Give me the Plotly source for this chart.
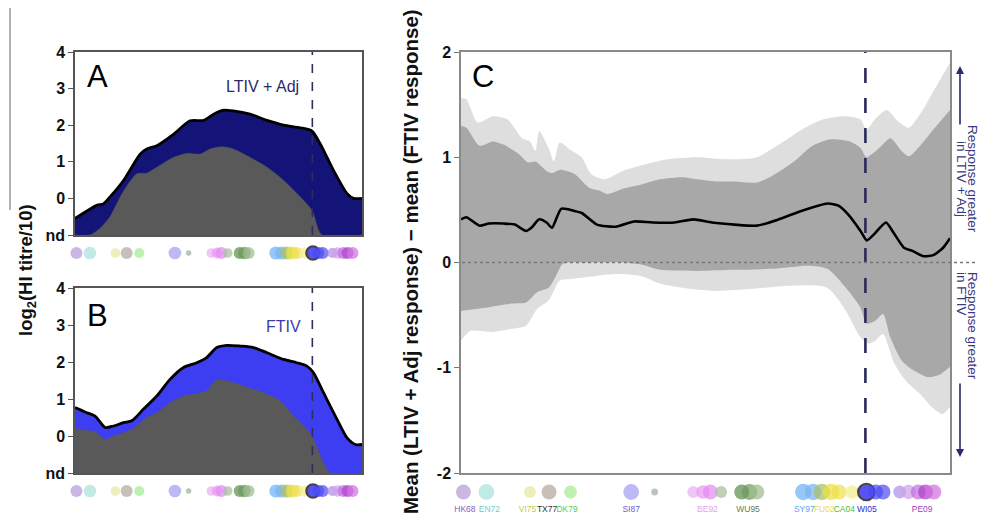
import plotly.graph_objects as go

W, H = 981, 519

# ---------------- data ----------------
# Panel A (LTIV + Adj): antigenic position (% of axis) and log2 titres
a_top_x = [0, 7.6, 9.9, 12.2, 16.9, 22.7, 25, 28.5, 34.3, 40.1, 44.8, 48.3, 51.7, 55.2, 61, 66.9, 72.7, 78.5, 82.6, 85.5, 90.1, 94.8, 97.1, 100]
a_top_y = [-0.55, -0.19, -0.15, 0.04, 0.49, 1.21, 1.35, 1.44, 1.75, 2.12, 2.13, 2.30, 2.41, 2.39, 2.30, 2.13, 2.0, 1.93, 1.84, 1.48, 0.76, 0.13, 0, 0]
a_base_x = [0, 5.2, 8.7, 12.2, 16.9, 21.5, 25, 28.5, 34.3, 39, 43.6, 47.1, 51.2, 55.2, 61, 66.9, 72.7, 78.5, 82.6, 86, 100]
a_base_y = [-1, -1, -0.82, -0.5, 0.2, 0.67, 0.69, 0.85, 1.12, 1.23, 1.21, 1.35, 1.41, 1.35, 1.12, 0.85, 0.49, 0.04, -0.33, -1, -1]

# Panel B (FTIV)
b_top_x = [0, 4.1, 7, 10.5, 13.4, 16.9, 19.8, 23.8, 28.5, 33.1, 37.8, 42.4, 45.9, 49.4, 52.9, 57.6, 62.2, 66.9, 72.7, 77.3, 80.8, 83.1, 86.6, 91.3, 94.8, 97.7, 100]
b_top_y = [0.77, 0.63, 0.54, 0.23, 0.27, 0.36, 0.41, 0.72, 1.08, 1.53, 1.85, 1.98, 2.12, 2.39, 2.45, 2.43, 2.39, 2.25, 2.07, 1.98, 1.89, 1.71, 1.17, 0.45, -0.05, -0.23, -0.23]
b_base_x = [0, 4.1, 7, 10.5, 13.4, 16.9, 20.3, 25, 28.5, 33.1, 37.8, 43.6, 45.9, 49.4, 55.2, 62.2, 66.9, 71.5, 76.2, 80.8, 83.1, 89, 100]
b_base_y = [0.2, 0.15, 0.11, -0.09, 0, 0.09, 0.2, 0.5, 0.63, 0.9, 1.08, 1.17, 1.22, 1.53, 1.44, 1.26, 1.13, 0.95, 0.54, 0.18, -0.09, -1, -1]

# Panel C: difference of means with bands
c_mean_x = [0, 1.1, 3.8, 5.7, 8.7, 11, 13.3, 14.4, 16, 17.5, 18.6, 20.5, 23.2, 24.7, 27.8, 31.6, 35.4, 39.2, 43.7, 47.5, 51.3, 55.9, 60.5, 65, 69.6, 75, 77.2, 79.3, 81.7, 83.0, 84.5, 86.9, 88.5, 90.6, 92.3, 94.6, 96.6, 98.6, 100]
c_mean_y = [0.41, 0.43, 0.35, 0.37, 0.37, 0.36, 0.30, 0.33, 0.41, 0.38, 0.33, 0.51, 0.49, 0.47, 0.36, 0.34, 0.39, 0.38, 0.38, 0.41, 0.38, 0.36, 0.35, 0.41, 0.49, 0.56, 0.54, 0.45, 0.30, 0.21, 0.27, 0.38, 0.28, 0.14, 0.11, 0.06, 0.07, 0.14, 0.23]

c_dark_up_x = [0, 1.1, 3.8, 6.5, 8.7, 11.8, 13.7, 15.2, 17.5, 18.6, 20.2, 23.2, 26.2, 28.5, 30, 33.1, 36.9, 40.7, 45.2, 48.3, 52.1, 55.9, 60.5, 63.5, 68.1, 71.9, 75.7, 79.5, 81.7, 82.9, 85.6, 87.8, 90.1, 91.6, 93.9, 96.9, 100]
c_dark_up_y = [1.30, 1.28, 1.11, 1.15, 1.12, 1.03, 0.95, 0.96, 0.87, 0.85, 0.88, 0.84, 0.71, 0.68, 0.65, 0.70, 0.74, 0.79, 0.81, 0.79, 0.77, 0.77, 0.76, 0.82, 0.96, 1.11, 1.17, 1.15, 1.09, 1.00, 1.09, 1.18, 1.06, 1.01, 1.11, 1.28, 1.45]
c_dark_lo_x = [0, 4.9, 10.3, 13.3, 15.6, 17.9, 19.4, 20.9, 25.5, 33.1, 36.9, 40.7, 48.3, 55.9, 63.5, 71.1, 74.9, 78.7, 81.7, 82.9, 84.8, 86.3, 87.8, 90.1, 92.4, 95.4, 97.7, 100]
c_dark_lo_y = [-0.46, -0.43, -0.39, -0.38, -0.28, -0.24, -0.13, -0.01, 0, 0, -0.02, -0.07, -0.08, -0.07, -0.06, -0.03, -0.06, -0.24, -0.43, -0.58, -0.55, -0.49, -0.71, -0.93, -1.02, -1.09, -1.07, -0.99]
c_light_up_x = [0, 1.1, 3.4, 6.5, 9.5, 12.5, 14.1, 15.2, 16, 17.9, 19, 20.2, 22.4, 24.7, 26.6, 29.3, 33.1, 37.6, 42.2, 48.3, 54.4, 60.5, 65, 69.6, 74.1, 78.7, 81.7, 82.9, 84.8, 87.1, 89.4, 91.6, 93.9, 96.9, 100]
c_light_up_y = [1.56, 1.55, 1.33, 1.39, 1.36, 1.18, 1.15, 1.06, 1.25, 1.09, 0.96, 1.14, 1.07, 1.00, 0.84, 0.79, 0.87, 0.93, 0.98, 1.00, 0.98, 1.00, 1.12, 1.26, 1.36, 1.39, 1.36, 1.26, 1.37, 1.45, 1.34, 1.28, 1.41, 1.65, 1.90]
c_light_lo_x = [0, 1.9, 6.5, 10.3, 13.3, 15.6, 17.9, 20.2, 21.7, 25.5, 31.6, 36.9, 40.7, 45.2, 52.1, 59.7, 67.3, 74.9, 78.7, 81.7, 83.3, 84.8, 86.3, 88.6, 90.9, 93.9, 96.2, 98.5, 100]
c_light_lo_y = [-0.74, -0.65, -0.66, -0.63, -0.60, -0.44, -0.36, -0.17, -0.16, -0.14, -0.11, -0.13, -0.20, -0.24, -0.27, -0.25, -0.22, -0.24, -0.46, -0.71, -0.77, -0.74, -0.68, -0.96, -1.12, -1.25, -1.37, -1.44, -1.37]

vaccine_pos = 82.7

# Strain bubbles along the antigenic axis
bub_x = [0.5, 5.2, 14.1, 18.0, 22.4, 34.8, 39.6, 47.5, 49.5, 51.0, 53.2, 57.4, 59.0, 60.5, 70.0, 72.0, 73.8, 75.7, 77.3, 80.0, 82.9, 84.8, 86.3, 89.7, 91.5, 93.5, 95.0, 96.7, 100.3]
bub_col = ["#b99ad8", "#a9e2dc", "#e6e9a0", "#b3a69e", "#a4ec90", "#a49ef0", "#9cb09c", "#eab0f2", "#e79af0", "#e48af2",
           "#a8bfa0", "#5e8f4e", "#6e9a5e", "#9cbc90", "#6cb2f8", "#7ab4f0", "#a8c060", "#ece040", "#f0e050", "#f2ee90",
           "#1c10f0", "#4848f8", "#5050f0", "#b090e8", "#d0a0ea", "#c070e0", "#b040c8", "#d070e0", "#d8a0e8"]
bub_size = [1.0, 1.05, 0.8, 1.0, 0.85, 1.05, 0.45, 0.8, 0.9, 1.0, 0.8, 1.0, 1.05, 1.0, 1.1, 1.1, 1.1, 1.1, 1.0, 0.9, 1.1, 1.0, 1.0, 0.85, 0.95, 1.0, 1.0, 1.0, 0.6]

strain_labels = ["HK68", "EN72", "VI75", "TX77", "DK79", "SI87", "BE92", "WU95", "SY97", "FU02", "CA04", "WI05", "PE09"]
strain_label_x = [0.8, 5.8, 13.6, 17.6, 21.7, 34.8, 50.4, 58.7, 70.2, 74.3, 78.4, 83.0, 94.3]
strain_label_col = ["#8a5cc0", "#6ccfc4", "#c4c850", "#333333", "#5ccc50", "#6a60d8", "#e6a0ee", "#5f7f55", "#5aa8f0", "#f0d840", "#40c040", "#2a2ad0", "#a040c0"]

# ---------------- layout helpers ----------------
def px(x):
    return x / W

def py(y):
    return 1 - y / H

A_X = [px(75), px(362)]
A_Y = [py(235), py(52)]
B_Y = [py(473), py(288)]
C_X = [px(461), px(950)]
C_Y = [py(473), py(52)]

fig = go.Figure()
SPL = dict(shape="spline", smoothing=0.7)

def area_panel(xa, ya, top_x, top_y, base_x, base_y, col):
    fig.add_trace(go.Scatter(x=[0, 100], y=[-1, -1], xaxis=xa, yaxis=ya, mode="lines",
                             line=dict(width=0, color="rgba(0,0,0,0)"), showlegend=False, hoverinfo="skip"))
    fig.add_trace(go.Scatter(x=top_x, y=top_y, xaxis=xa, yaxis=ya, mode="lines", fill="tonexty",
                             fillcolor=col, line=dict(color="black", width=2.8, **SPL), showlegend=False))
    fig.add_trace(go.Scatter(x=[0, 100], y=[-1, -1], xaxis=xa, yaxis=ya, mode="lines",
                             line=dict(width=0, color="rgba(0,0,0,0)"), showlegend=False, hoverinfo="skip"))
    fig.add_trace(go.Scatter(x=base_x, y=base_y, xaxis=xa, yaxis=ya, mode="lines", fill="tonexty",
                             fillcolor="#595959", line=dict(color="#595959", width=0.5, **SPL), showlegend=False))

area_panel("x", "y", a_top_x, a_top_y, a_base_x, a_base_y, "#141478")
area_panel("x2", "y2", b_top_x, b_top_y, b_base_x, b_base_y, "#3d3df2")

# Panel C bands
def band(lo_x, lo_y, up_x, up_y, col):
    fig.add_trace(go.Scatter(x=lo_x, y=lo_y, xaxis="x3", yaxis="y3", mode="lines",
                             line=dict(width=0, color=col, **SPL), showlegend=False, hoverinfo="skip"))
    fig.add_trace(go.Scatter(x=up_x, y=up_y, xaxis="x3", yaxis="y3", mode="lines", fill="tonexty",
                             fillcolor=col, line=dict(width=0, color=col, **SPL), showlegend=False))

band(c_light_lo_x, c_light_lo_y, c_light_up_x, c_light_up_y, "#dedede")
band(c_dark_lo_x, c_dark_lo_y, c_dark_up_x, c_dark_up_y, "#a8a8a8")
fig.add_trace(go.Scatter(x=c_mean_x, y=c_mean_y, xaxis="x3", yaxis="y3", mode="lines",
                         line=dict(color="black", width=2.6, shape="spline", smoothing=0.6), showlegend=False))

# Bubble rows
lw = [2.2 if c == "#1c10f0" else 0 for c in bub_col]
for xa, ya, scale in [("x4", "y4", 12), ("x5", "y5", 12), ("x6", "y6", 15)]:
    fig.add_trace(go.Scatter(x=bub_x, y=[0] * len(bub_x), xaxis=xa, yaxis=ya, mode="markers",
                             marker=dict(color=bub_col, size=[s * scale for s in bub_size], opacity=0.72,
                                         line=dict(color="black", width=lw)),
                             cliponaxis=False, showlegend=False))
fig.add_trace(go.Scatter(x=strain_label_x, y=[-1.95] * len(strain_label_x), xaxis="x6", yaxis="y6", mode="text",
                         text=strain_labels, textfont=dict(color=strain_label_col, size=8.5, family="Liberation Sans"),
                         cliponaxis=False, showlegend=False))

# ---------------- axes ----------------
tickfont = dict(family="Liberation Sans", size=16, color="#111", weight="bold")
xcommon = dict(range=[0, 100], showticklabels=False, showgrid=False, zeroline=False, ticks="",
               showline=True, mirror=True, linewidth=1.5, automargin=False)
ab_y = dict(range=[-1, 4], tickvals=[-1, 0, 1, 2, 3, 4], ticktext=["nd", "0", "1", "2", "3", "4"],
            ticks="outside", ticklen=5, tickcolor="#555", showgrid=False, zeroline=False, showline=True,
            mirror=True, linewidth=1.5, linecolor="#555", tickfont=tickfont, automargin=False)
hidden = dict(range=[-1, 1], visible=False, automargin=False)

fig.update_layout(
    template="none",
    width=W, height=H, margin=dict(l=0, r=0, t=0, b=0, pad=0), autosize=False,
    paper_bgcolor="white", plot_bgcolor="rgba(0,0,0,0)",
    xaxis=dict(domain=A_X, anchor="y", linecolor="#555", **xcommon),
    yaxis=dict(domain=A_Y, anchor="x", **ab_y),
    xaxis2=dict(domain=A_X, anchor="y2", linecolor="#555", **xcommon),
    yaxis2=dict(domain=B_Y, anchor="x2", **ab_y),
    xaxis3=dict(domain=C_X, anchor="y3", linecolor="#8a8a8a", **xcommon),
    yaxis3=dict(domain=C_Y, anchor="x3", range=[-2, 2], tickvals=[-2, -1, 0, 1, 2],
                ticktext=["-2", "-1", "0", "1", "2"], ticks="outside", ticklen=5, tickcolor="#777",
                showgrid=False, zeroline=False, showline=True, mirror=True, linewidth=1.5,
                linecolor="#8a8a8a", tickfont=tickfont, automargin=False),
    xaxis4=dict(domain=A_X, anchor="y4", range=[0, 100], visible=False, automargin=False),
    yaxis4=dict(domain=[py(262), py(244)], anchor="x4", **hidden),
    xaxis5=dict(domain=A_X, anchor="y5", range=[0, 100], visible=False, automargin=False),
    yaxis5=dict(domain=[py(500), py(482)], anchor="x5", **hidden),
    xaxis6=dict(domain=C_X, anchor="y6", range=[0, 100], visible=False, automargin=False),
    yaxis6=dict(domain=[py(510), py(474)], anchor="x6", range=[-2, 2], visible=False, automargin=False),
)

# ---------------- shapes ----------------
shapes = []
for ya in ["y", "y2"]:
    shapes.append(dict(type="line", xref="x" if ya == "y" else "x2", yref=ya, x0=vaccine_pos, x1=vaccine_pos,
                       y0=-1, y1=4, line=dict(color="#2e2e5e", width=1.6, dash="dash")))
shapes.append(dict(type="line", xref="x3", yref="y3", x0=vaccine_pos, x1=vaccine_pos, y0=-2, y1=2,
                   line=dict(color="#2a2a5a", width=2.6, dash="longdash")))
shapes.append(dict(type="line", xref="paper", yref="y3", x0=px(462), x1=px(978), y0=0, y1=0,
                   line=dict(color="#777", width=1.5, dash="dot")))
shapes.append(dict(type="line", xref="paper", yref="paper", x0=px(10), x1=px(10), y0=py(8), y1=py(210),
                   line=dict(color="#666", width=1)))
fig.update_layout(shapes=shapes)

# ---------------- annotations ----------------
ann = []
def add_text(x, y, text, size, color="black", angle=0, bold=False, align="center", xanchor="center", yanchor="middle"):
    ann.append(dict(x=px(x), y=py(y), xref="paper", yref="paper", text=("<b>%s</b>" % text) if bold else text,
                    showarrow=False, textangle=angle, align=align, xanchor=xanchor, yanchor=yanchor,
                    font=dict(family="Liberation Sans", size=size, color=color)))

add_text(97, 76, "A", 31)
add_text(97, 315, "B", 31)
add_text(483, 76, "C", 31)
add_text(262, 87, "LTIV + Adj", 16, "#2a2a6a")
add_text(283, 326, "FTIV", 16, "#3c3ca8")
add_text(27, 270, "log<sub>2</sub>(HI titre/10)", 18.5, "#111", angle=-90, bold=True)
add_text(410, 262, "Mean (LTIV + Adj response) \u2212 mean (FTIV response)", 20.5, "#111", angle=-90, bold=True)
# right-hand side labels, one annotation per line (rotated)
add_text(973, 179, "Response greater", 13.5, "#3a3a80", angle=90)
add_text(962, 179, "in LTIV + Adj", 13.5, "#3a3a80", angle=90)
add_text(973, 270, "Response greater", 13.5, "#3a3a80", angle=90, yanchor="top")
add_text(962, 270, "in FTIV", 13.5, "#3a3a80", angle=90, yanchor="top")

# arrows (pixel offsets for the tail)
ann.append(dict(x=px(960), y=py(66), xref="paper", yref="paper", axref="pixel", ayref="pixel", ax=0, ay=60,
                showarrow=True, arrowhead=2, arrowsize=1, arrowwidth=1.6, arrowcolor="#2a2a70", text=""))
ann.append(dict(x=px(960), y=py(457), xref="paper", yref="paper", axref="pixel", ayref="pixel", ax=0, ay=-75,
                showarrow=True, arrowhead=2, arrowsize=1, arrowwidth=1.6, arrowcolor="#2a2a70", text=""))
fig.update_layout(annotations=ann)

fig.write_html("out.html", config={"displayModeBar": False},
               post_script="document.body.style.margin='0px';document.body.style.overflow='hidden';")
